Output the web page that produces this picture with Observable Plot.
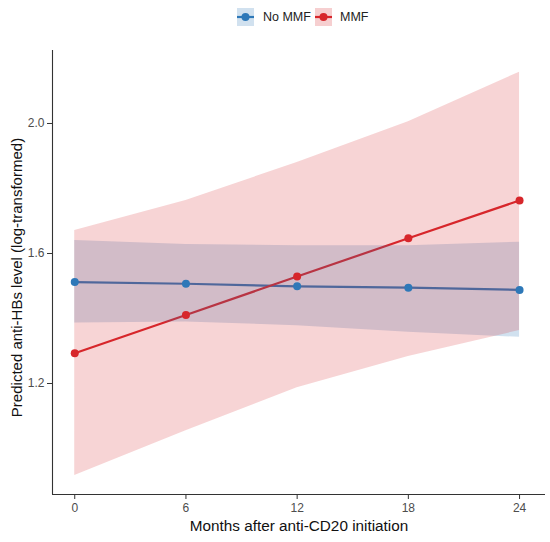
<!DOCTYPE html>
<html><head><meta charset="utf-8">
<script src="https://cdn.jsdelivr.net/npm/d3@7"></script>
<script src="https://cdn.jsdelivr.net/npm/@observablehq/plot@0.6"></script>
<style>
body{margin:0;background:#fff;font-family:"Liberation Sans",Arial,sans-serif;}
#wrap{position:relative;width:550px;height:542px;}
#legend{position:absolute;left:0;top:0;width:550px;height:35px;}
.key{position:absolute;top:8px;}
.lab{position:absolute;top:10px;font-size:12.5px;color:#222;line-height:15px;}
#chart{position:absolute;left:0;top:35px;}
</style></head>
<body><div id="wrap"><div id="legend"></div><div id="chart"></div></div>
<script>
const months = [0, 6, 12, 18, 24];
const groups = ["No MMF", "MMF"];
const colors = ["#2E78B8", "#D7262B"];
const noMMF = [1.512, 1.507, 1.499, 1.495, 1.488];
const noMMFLow = [1.386, 1.389, 1.378, 1.358, 1.342];
const noMMFHigh = [1.640, 1.628, 1.624, 1.624, 1.635];
const mmf = [1.293, 1.411, 1.529, 1.647, 1.763];
const mmfLow = [0.917, 1.055, 1.187, 1.283, 1.363];
const mmfHigh = [1.671, 1.763, 1.880, 2.005, 2.158];
const xTicks = [0, 6, 12, 18, 24];
const yTicks = [1.2, 1.6, 2.0];
const xLabel = "Months after anti-CD20 initiation";
const yLabel = "Predicted anti-HBs level (log-transformed)";

const xDom = [-1.2, 25.4], yDom = [0.8585, 2.2246];
const blue = months.map((m, i) => ({month: m, fit: noMMF[i], lo: noMMFLow[i], hi: noMMFHigh[i]}));
const red = months.map((m, i) => ({month: m, fit: mmf[i], lo: mmfLow[i], hi: mmfHigh[i]}));

const chart = Plot.plot({
  width: 550, height: 507,
  marginTop: 15, marginBottom: 48, marginLeft: 52, marginRight: 5,
  style: {fontFamily: "Liberation Sans, Arial, sans-serif", fontSize: "12px", color: "#4D4D4D", background: "white"},
  x: {domain: xDom},
  y: {domain: yDom},
  marks: [
    Plot.lineY(blue, {x: "month", y: "fit", stroke: colors[0], strokeWidth: 2.2}),
    Plot.lineY(red, {x: "month", y: "fit", stroke: colors[1], strokeWidth: 2.2}),
    Plot.areaY(blue, {x: "month", y1: "lo", y2: "hi", fill: colors[0], fillOpacity: 0.22}),
    Plot.areaY(red, {x: "month", y1: "lo", y2: "hi", fill: colors[1], fillOpacity: 0.2}),
    Plot.dot(blue, {x: "month", y: "fit", r: 4, fill: colors[0]}),
    Plot.dot(red, {x: "month", y: "fit", r: 4, fill: colors[1]}),
    Plot.ruleX([xDom[0]], {stroke: "#333", strokeWidth: 1.1}),
    Plot.ruleY([yDom[0]], {stroke: "#333", strokeWidth: 1.1}),
    Plot.axisX({ticks: xTicks, tickSize: 5, tickPadding: 4, fontSize: 12, label: null, stroke: "#333", fill: "#4D4D4D"}),
    Plot.axisY({ticks: yTicks, tickSize: 5, tickPadding: 3, fontSize: 12, tickFormat: d3.format(".1f"), label: null, stroke: "#333", fill: "#4D4D4D"}),
    Plot.text([xLabel], {text: d => d, frameAnchor: "bottom", textAnchor: "middle", lineAnchor: "middle", dy: 32, fontSize: 15.3, fill: "#111"}),
    Plot.text([yLabel], {text: d => d, frameAnchor: "left", textAnchor: "middle", lineAnchor: "middle", rotate: -90, dx: -35, dy: 5, fontSize: 15, fill: "#111"})
  ]
});
document.getElementById("chart").appendChild(chart);

// legend
const leg = document.getElementById("legend");
const keyX = [237, 315], labX = [263, 340];
groups.forEach((g, i) => {
  const k = document.createElementNS("http://www.w3.org/2000/svg", "svg");
  k.setAttribute("width", 17); k.setAttribute("height", 18); k.setAttribute("class", "key");
  k.style.left = keyX[i] + "px";
  k.innerHTML = `<rect width="17" height="18" fill="${colors[i]}" fill-opacity="0.22"/>
    <line x1="0" x2="17" y1="9" y2="9" stroke="${colors[i]}" stroke-width="2.2"/>
    <circle cx="8.5" cy="9" r="4" fill="${colors[i]}"/>`;
  leg.appendChild(k);
  const t = document.createElement("div");
  t.className = "lab"; t.style.left = labX[i] + "px"; t.textContent = g;
  leg.appendChild(t);
});
</script></body></html>
